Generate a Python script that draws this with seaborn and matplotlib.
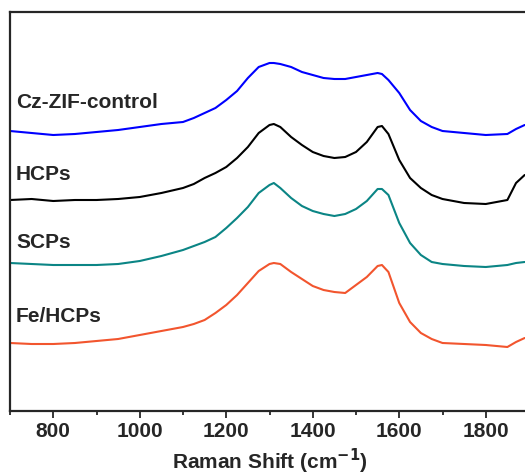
# Raman spectra of the four samples, stacked
import matplotlib
matplotlib.use('Agg')
import matplotlib.pyplot as plt
import pandas as pd
import seaborn as sns
from matplotlib.ticker import MultipleLocator

shift = [700, 750, 800, 850, 900, 950, 1000, 1050,
         1100, 1125, 1150, 1175, 1200, 1225, 1250, 1275, 1300, 1310, 1325, 1350,
         1375, 1400, 1425, 1450, 1475, 1500, 1525, 1550, 1560, 1575, 1600, 1625,
         1650, 1675, 1700, 1750, 1800, 1850, 1870, 1890]

# intensities (a.u., already stacked)
cz_zif = [280, 278, 276, 277, 279, 281, 284, 287,
          289, 293, 298, 303, 311, 320, 333, 344, 348, 348, 347, 344,
          339, 336, 333, 332, 332, 334, 336, 338, 337, 331, 318, 301,
          290, 284, 280, 278, 276, 277, 282, 286]
hcps = [211, 212, 210, 211, 211, 212, 214, 218,
        223, 227, 233, 238, 244, 253, 264, 278, 286, 287, 284, 274,
        266, 259, 255, 253, 254, 259, 269, 284, 285, 277, 251, 233,
        223, 216, 212, 208, 207, 211, 228, 236]
scps = [148, 147, 146, 146, 146, 147, 150, 155,
        161, 165, 169, 174, 183, 193, 204, 218, 226, 228, 223, 213,
        205, 200, 197, 195, 197, 202, 210, 222, 222, 216, 188, 168,
        156, 149, 147, 145, 144, 146, 148, 149]
fe_hcps = [68, 67, 67, 68, 70, 72, 76, 80,
           84, 87, 91, 98, 106, 116, 128, 140, 147, 148, 147, 139,
           132, 125, 121, 119, 118, 126, 134, 145, 146, 139, 108, 89,
           78, 72, 68, 67, 66, 64, 69, 73]

names = ['Cz-ZIF-control', 'HCPs', 'SCPs', 'Fe/HCPs']
colors = ['#0000FF', '#000000', '#0B8585', '#F2552E']

df = pd.concat([
    pd.DataFrame({'shift': shift, 'intensity': vals, 'sample': n})
    for n, vals in zip(names, [cz_zif, hcps, scps, fe_hcps])
])

sns.set_style('ticks')
plt.rcParams['font.family'] = ['Liberation Sans', 'DejaVu Sans']

fig = plt.figure(figsize=(5.25, 4.76), dpi=100)
ax = fig.add_axes([10 / 525, 65 / 476, 519 / 525, 399 / 476])

sns.lineplot(data=df, x='shift', y='intensity', hue='sample', hue_order=names,
             palette=colors, linewidth=1.5, legend=False, ax=ax)

# sample labels on the left
label_y = [309, 236, 168, 94]
for n, yy in zip(names, label_y):
    ax.text(714, yy, n, fontsize=15, fontweight='bold', va='center', ha='left')

ax.set_xlim(700, 1900)
ax.set_ylim(0, 399)
ax.set_yticks([])
ax.xaxis.set_major_locator(MultipleLocator(200))
ax.xaxis.set_minor_locator(MultipleLocator(100))
ax.tick_params(axis='x', which='major', length=5, width=1.3, labelsize=15, pad=3)
ax.tick_params(axis='x', which='minor', length=3, width=1.3)
for lab in ax.get_xticklabels():
    lab.set_fontweight('bold')
for sp in ax.spines.values():
    sp.set_linewidth(1.6)
    sp.set_visible(True)

ax.set_xlabel('Raman Shift (cm$^{\\mathbf{-1}}$)', fontsize=15, fontweight='bold', labelpad=4)
ax.set_ylabel('')

fig.savefig('out.png', dpi=100)
